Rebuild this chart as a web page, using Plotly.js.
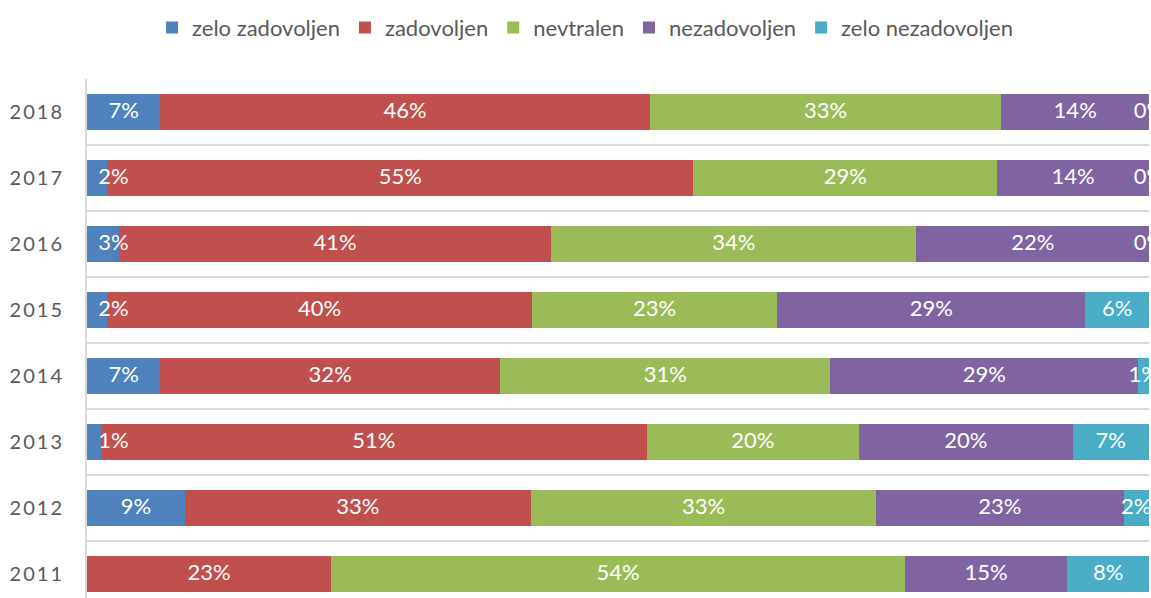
<!DOCTYPE html>
<html>
<head>
<meta charset="utf-8">
<script src="https://cdn.plot.ly/plotly-3.0.1.min.js"></script>
<style>
html, body { margin:0; padding:0; overflow:hidden; background:#fff; }
#chart { width:1151px; height:620px; }
.ytick text { letter-spacing: 2px; }
</style>
</head>
<body>
<div id="chart"></div>
<script>
// Categories (top to bottom)
const years = ['2018','2017','2016','2015','2014','2013','2012','2011'];
// Series names
const seriesNames = ['zelo zadovoljen','zadovoljen','nevtralen','nezadovoljen','zelo nezadovoljen'];
// Series values (percent of respondents)
const zeloZadovoljen    = [6.9, 1.9, 3.0, 1.9, 6.9, 1.3, 9.2, null];
const zadovoljen        = [46.1, 55.2, 40.7, 40.0, 32.0, 51.4, 32.6, 23.0];
const nevtralen         = [33.1, 28.6, 34.4, 23.1, 31.1, 20.0, 32.5, 54.0];
const nezadovoljen      = [13.9, 14.3, 21.9, 29.0, 29.0, 20.1, 23.3, 15.3];
const zeloNezadovoljen  = [0.0, 0.0, 0.0, 6.0, 1.0, 7.2, 2.4, 7.7];
const colors = ['#4F81BD','#C0504D','#9BBB59','#8064A2','#4BACC6'];

const series = [zeloZadovoljen, zadovoljen, nevtralen, nezadovoljen, zeloNezadovoljen];
const FONT = 'Lato, "Open Sans", sans-serif';

const traces = [];
series.forEach((vals, i) => {
  traces.push({
    type: 'bar', orientation: 'h', name: seriesNames[i],
    y: years, x: vals,
    marker: { color: colors[i], line: { width: 0 } },
    hoverinfo: 'skip'
  });
});

// label positions: midpoint of each stacked segment
const lx = [], ly = [], lt = [];
years.forEach((yr, j) => {
  let cum = 0;
  series.forEach((vals, i) => {
    const v = vals[j];
    if (v === null || v === undefined) return;
    let mid = cum + v / 2;
    if (i === 0 && cum === 0 && mid < 2.5) mid = 2.5;
    lx.push(mid); ly.push(yr); lt.push(Math.round(v) + '%');
    cum += v;
  });
});
traces.push({
  type: 'scatter', mode: 'text', x: lx, y: ly, text: lt,
  textposition: 'middle center',
  textfont: { family: FONT, size: 22, color: '#FFFFFF' },
  showlegend: false, hoverinfo: 'skip', cliponaxis: false
});

const layout = {
  width: 1151, height: 620,
  margin: { l: 87, r: 2, t: 79, b: 13 },
  barmode: 'stack', bargap: 0.44,
  paper_bgcolor: '#fff', plot_bgcolor: '#fff',
  font: { family: FONT, color: '#595959', size: 18 },
  showlegend: true,
  legend: {
    orientation: 'h', x: 0.469, xanchor: 'center', y: 1.097, yanchor: 'middle',
    font: { family: FONT, size: 22, color: '#595959' },
    traceorder: 'normal', itemclick: false
  },
  xaxis: {
    range: [0, 100], showgrid: false, zeroline: false, showline: false,
    showticklabels: false, ticks: '', fixedrange: true
  },
  yaxis: {
    type: 'category', autorange: 'reversed',
    tickson: 'boundaries', showgrid: true, gridcolor: '#D9D9D9', gridwidth: 2,
    showline: true, linecolor: '#D9D9D9', linewidth: 2,
    ticks: '', ticklabelstandoff: 17,
    tickfont: { family: FONT, size: 20, color: '#595959' },
    fixedrange: true
  },
  hovermode: false
};

Plotly.newPlot('chart', traces, layout, { displayModeBar: false, staticPlot: true });
</script>
</body>
</html>
